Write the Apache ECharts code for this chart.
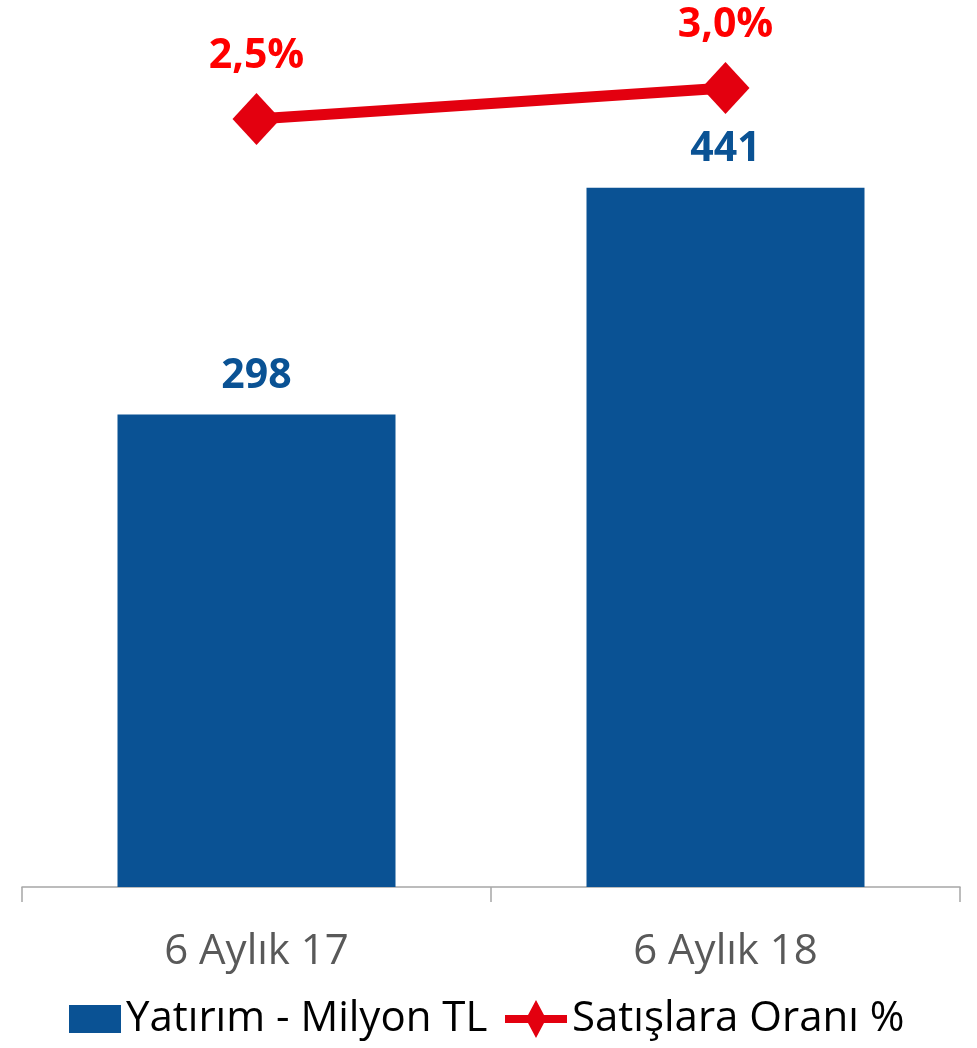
<!DOCTYPE html>
<html>
<head>
<meta charset="utf-8">
<script src="https://cdn.jsdelivr.net/npm/echarts@6/dist/echarts.min.js"></script>
<style>
html,body{margin:0;padding:0;background:#fff;}
#chart{width:977px;height:1048px;}
</style>
</head>
<body>
<div id="chart"></div>
<script>
const categories = ['6 Aylık 17', '6 Aylık 18'];
const investment = [298, 441];
const salesRatio = [2.5, 3.0];
const seriesNames = ['Yatırım - Milyon TL', 'Satışlara Oranı %'];

const FONT = '"Open Sans", sans-serif';
const legendText = { fontFamily: FONT, fontSize: 42, color: '#000000' };
const chart = echarts.init(document.getElementById('chart'));
chart.setOption({
  animation: false,
  backgroundColor: '#ffffff',
  grid: { left: 22, right: 17, top: 15, bottom: 161, containLabel: false },
  legend: [
    {
      left: 64, top: 993,
      itemWidth: 52, itemHeight: 28,
      textStyle: legendText,
      data: [{ name: seriesNames[0], icon: 'rect' }]
    },
    {
      left: 500, top: 993,
      itemWidth: 62, itemHeight: 38,
      textStyle: legendText,
      data: [{
        name: seriesNames[1],
        icon: 'path://M0,15 L23,15 L31,0 L39,15 L62,15 L62,23 L39,23 L31,38 L23,23 L0,23 Z',
        itemStyle: { color: '#e3000f' }
      }]
    }
  ],
  xAxis: {
    type: 'category',
    data: categories,
    axisLine: { show: true, lineStyle: { color: '#a6a6a6', width: 1.5 } },
    axisTick: { show: true, length: 15, lineStyle: { color: '#a6a6a6', width: 1.5 } },
    axisLabel: { fontFamily: FONT, fontSize: 42, color: '#595959', margin: 44 }
  },
  yAxis: [
    { type: 'value', min: 0, max: 550, show: false, splitLine: { show: false } },
    { type: 'value', min: -9.887, max: 4.177, show: false, splitLine: { show: false } }
  ],
  series: [
    {
      name: seriesNames[0],
      type: 'bar',
      data: investment,
      barWidth: 278,
      itemStyle: { color: '#0a5294' },
      label: {
        show: true, position: 'top', distance: 18,
        fontFamily: FONT, fontSize: 41, fontWeight: 'bold', color: '#0a5294'
      }
    },
    {
      name: seriesNames[1],
      type: 'line',
      yAxisIndex: 1,
      data: salesRatio,
      symbol: 'diamond',
      symbolSize: [48, 52],
      lineStyle: { color: '#e3000f', width: 11 },
      itemStyle: { color: '#e3000f' },
      label: {
        show: true, position: 'top', distance: 16,
        fontFamily: FONT, fontSize: 41, fontWeight: 'bold', color: '#ff0000',
        formatter: p => p.value.toFixed(1).replace('.', ',') + '%'
      }
    }
  ]
});
</script>
</body>
</html>
